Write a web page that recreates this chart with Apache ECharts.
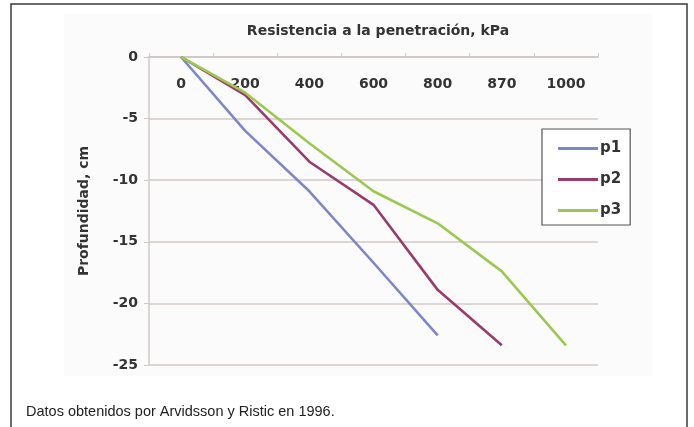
<!DOCTYPE html>
<html>
<head>
<meta charset="utf-8">
<script src="https://cdn.jsdelivr.net/npm/echarts@6/dist/echarts.min.js"></script>
<style>
html,body{margin:0;padding:0;background:#fff;}
#c{width:694px;height:427px;}
</style>
</head>
<body>
<div id="c"></div>
<script>
var categories = ['0', '200', '400', '600', '800', '870', '1000'];
var p1 = [0, -6.0, -10.9, -16.7, -22.6];
var p2 = [0, -3.1, -8.5, -12.0, -18.9, -23.4];
var p3 = [0, -2.9, -7.0, -10.9, -13.5, -17.4, -23.4];
var seriesNames = ['p1', 'p2', 'p3'];
var colors = ['#7d87c6', '#9a3b6b', '#9cc84f'];
var title = 'Resistencia a la penetración, kPa';
var yName = 'Profundidad, cm';
var footnote = 'Datos obtenidos por Arvidsson y Ristic en 1996.';

var chart = echarts.init(document.getElementById('c'), null, {renderer: 'canvas'});
var font = 'DejaVu Sans';
chart.setOption({
  backgroundColor: '#ffffff',
  animation: false,
  graphic: [
    {type: 'rect', z: -10, shape: {x: 64, y: 14, width: 588, height: 362}, style: {fill: '#fbfbfb'}},
    {type: 'rect', z: 100, shape: {x: 11, y: 4, width: 676, height: 440}, style: {fill: 'none', stroke: '#3a3a3a', lineWidth: 1.5}},
    {type: 'text', z: 100, left: 26, top: 404, style: {text: footnote, font: '14.5px "Liberation Sans Narrow", "Arial Narrow", sans-serif', fill: '#222'}}
  ],
  title: {
    text: title,
    left: 373, top: 19, textAlign: 'center',
    textStyle: {fontFamily: font, fontSize: 14, fontWeight: 'bold', color: '#333'}
  },
  legend: {
    data: seriesNames,
    orient: 'vertical',
    left: 542, top: 129,
    padding: [12, 9, 7, 16],
    itemWidth: 40, itemHeight: 3, itemGap: 16,
    icon: 'rect',
    borderColor: '#555', borderWidth: 1.2,
    backgroundColor: '#fff',
    textStyle: {fontFamily: font, fontSize: 15, fontWeight: 'bold', color: '#333', padding: [0,0,0,-3]}
  },
  grid: {left: 149, right: 96, top: 57, bottom: 62, containLabel: false},
  xAxis: {
    type: 'category',
    position: 'top',
    data: categories,
    boundaryGap: true,
    axisLine: {show: true, onZero: false, lineStyle: {color: '#d0c9c6', width: 2}},
    axisTick: {show: true, inside: false, length: 4, lineStyle: {color: '#d0c9c6'}},
    axisLabel: {inside: true, margin: 20, fontFamily: font, fontSize: 14, fontWeight: 'bold', color: '#333'},
    splitLine: {show: false}
  },
  yAxis: {
    type: 'value',
    min: -25, max: 0, interval: 5,
    name: yName,
    nameLocation: 'middle',
    nameGap: 58,
    nameRotate: 90,
    nameTextStyle: {fontFamily: font, fontSize: 14, fontWeight: 'bold', color: '#333'},
    axisLine: {show: true, lineStyle: {color: '#d0c9c6', width: 1.5}},
    axisTick: {show: true, inside: false, length: 5, lineStyle: {color: '#d0c9c6'}},
    axisLabel: {margin: 11, fontFamily: font, fontSize: 14, fontWeight: 'bold', color: '#333'},
    splitLine: {show: true, lineStyle: {color: '#dcd5d2', width: 2}}
  },
  series: [
    {name: 'p1', type: 'line', data: p1, showSymbol: false, symbol: 'none', lineStyle: {width: 2.6, color: colors[0]}, itemStyle: {color: colors[0]}},
    {name: 'p2', type: 'line', data: p2, showSymbol: false, symbol: 'none', lineStyle: {width: 2.6, color: colors[1]}, itemStyle: {color: colors[1]}},
    {name: 'p3', type: 'line', data: p3, showSymbol: false, symbol: 'none', lineStyle: {width: 2.6, color: colors[2]}, itemStyle: {color: colors[2]}}
  ]
});
</script>
</body>
</html>
